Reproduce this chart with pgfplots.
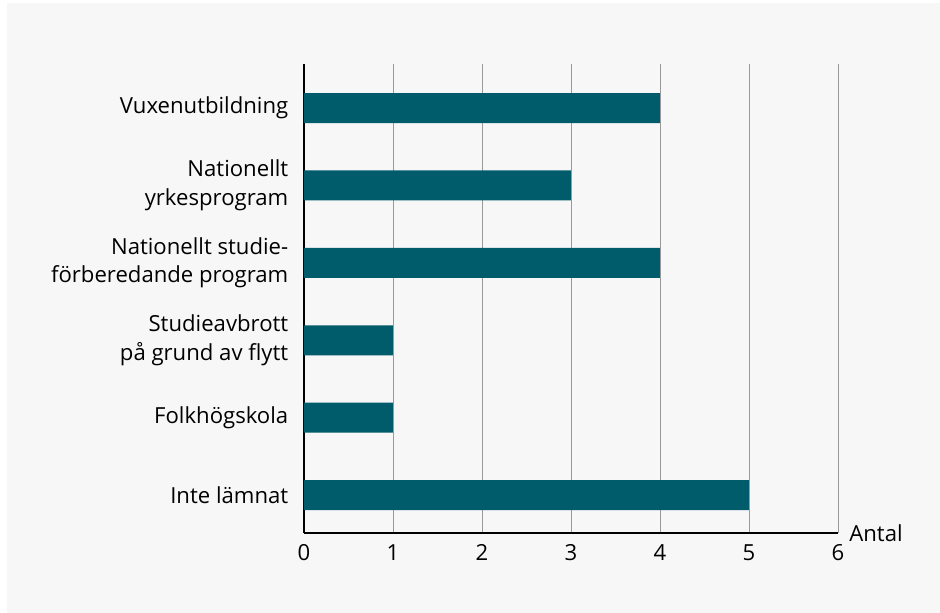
\documentclass[border=0pt]{standalone}
\usepackage{pgfplots}
\pgfplotsset{compat=1.18}
\usepackage{fontspec}
\setmainfont{Open Sans}
\definecolor{bar}{HTML}{005B6A}
\definecolor{bg}{HTML}{F7F7F7}
\begin{document}
\begin{tikzpicture}[x=0.75pt,y=0.75pt]
\fill[white] (0,0) rectangle (940,613);
\fill[bg] (7,0) rectangle (940,610);
\begin{axis}[
  at={(304*0.75pt,80*0.75pt)}, anchor=south west,
  scale only axis, width=400.5pt, height=351.75pt,
  xbar, bar width=22.5pt,
  xmin=0, xmax=6, ymin=-0.49, ymax=5.57,
  xtick={0,...,6}, ytick={0,...,5},
  yticklabels={Inte lämnat, Folkhögskola, {Studieavbrott\\på grund av flytt}, {Nationellt studie-\\förberedande program}, {Nationellt\\yrkesprogram}, Vuxenutbildning},
  yticklabel style={align=right, font=\fontsize{16.6}{21.5}\selectfont},
  xticklabel style={font=\fontsize{16.6}{20}\selectfont},
  /pgf/number format/assume math mode=true,
  axis x line*=bottom, axis y line*=left,
  axis line style={black, line width=1pt, -},
  x axis line style={-}, y axis line style={-},
  tick style={draw=none},
  xmajorgrids, grid style={gray!80, line width=0.6pt},
  ytick style={draw=none}, xtick style={draw=none},
  yticklabel style={xshift=-4pt},
  xticklabel style={yshift=-5pt},
  clip=false,
]
\addplot[fill=bar, draw=none] coordinates {(5,0) (1,1) (1,2) (4,3) (3,4) (4,5)};
\node[anchor=west, font=\fontsize{16.6}{20}\selectfont] at (rel axis cs:1,0) [xshift=5pt, yshift=0pt] {Antal};
\end{axis}
\end{tikzpicture}
\end{document}
